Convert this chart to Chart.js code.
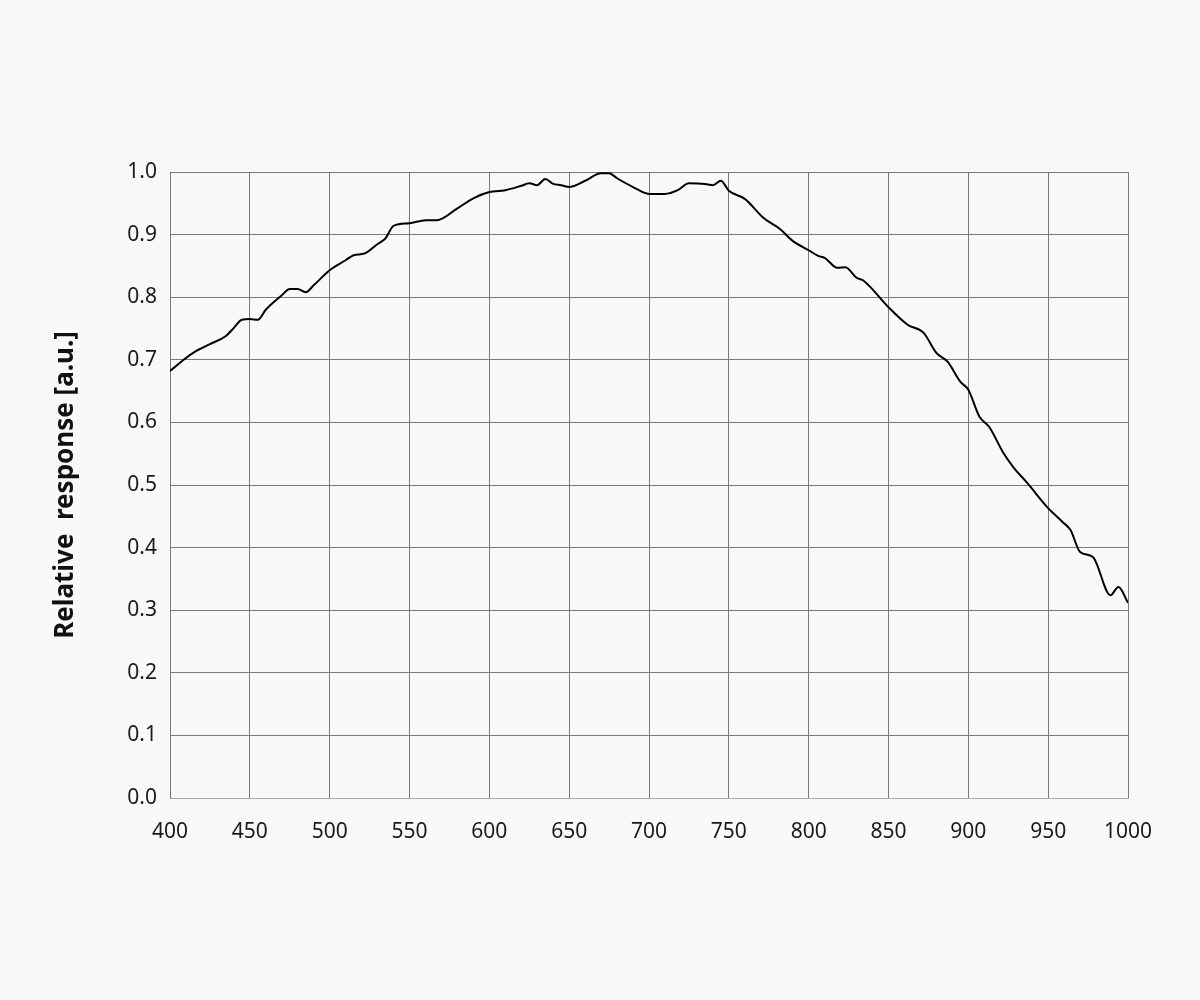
<!DOCTYPE html>
<html>
<head>
<meta charset="utf-8">
<script src="https://cdn.jsdelivr.net/npm/chart.js@4.4.1/dist/chart.umd.min.js"></script>
<style>
html,body{margin:0;padding:0;background:#f9f9f9;}
#wrap{width:1200px;height:1000px;position:relative;}
</style>
</head>
<body>
<div id="wrap"><canvas id="c" width="1200" height="1000"></canvas></div>
<script>
const wavelength = [400,410,415,425,435,440,445,450,455,460,470,475,480,485,490,500,510,515,522,530,535,540,550,560,567,580,590,600,610,620,625,630,635,640,645,650,660,670,675,680,690,700,710,718,725,735,740,745,750,760,772,782,790,800,806,810,818,823,830,834,850,862,872,880,887,895,900,907,913,922,928,937,950,959,964,970,978,989,994,1000];
const response = [0.682,0.703,0.712,0.725,0.738,0.751,0.764,0.765,0.764,0.780,0.803,0.813,0.813,0.808,0.819,0.843,0.859,0.867,0.870,0.885,0.894,0.914,0.918,0.923,0.923,0.942,0.958,0.968,0.971,0.978,0.982,0.979,0.989,0.981,0.979,0.976,0.986,0.998,0.998,0.990,0.976,0.965,0.965,0.971,0.982,0.981,0.979,0.986,0.970,0.957,0.926,0.909,0.890,0.875,0.866,0.863,0.847,0.848,0.831,0.827,0.784,0.756,0.743,0.711,0.697,0.665,0.652,0.609,0.593,0.551,0.529,0.503,0.463,0.441,0.428,0.393,0.385,0.324,0.337,0.312];
const xRange = [400, 1000];
const xStep = 50;
const yRange = [0, 1];
const yStep = 0.1;
const yTitle = 'Relative  response [a.u.]';

const points = wavelength.map((w, i) => ({x: w, y: response[i]}));
const fontFamily = '"Noto Sans", "Open Sans", sans-serif';

new Chart(document.getElementById('c'), {
  type: 'line',
  data: {
    datasets: [{
      data: points,
      borderColor: '#000',
      borderWidth: 2,
      pointRadius: 0,
      tension: 0.4,
      cubicInterpolationMode: 'monotone',
      fill: false
    }]
  },
  options: {
    responsive: false,
    animation: false,
    devicePixelRatio: 1,
    layout: {padding: {left: 50, right: 72, top: 172, bottom: 0}},
    plugins: {legend: {display: false}, tooltip: {enabled: false}},
    scales: {
      x: {
        type: 'linear',
        min: xRange[0], max: xRange[1],
        afterFit: s => { s.height = 202; },
        ticks: {stepSize: xStep, color: '#1a1a1a', padding: 21, maxRotation: 0,
                font: {family: fontFamily, size: 21},
                callback: v => String(v)},
        grid: {color: '#7a7a7a', lineWidth: 1, drawTicks: false},
        border: {color: '#aaaaaa'}
      },
      y: {
        min: yRange[0], max: yRange[1],
        afterFit: s => { s.width = 120; },
        ticks: {stepSize: yStep, color: '#1a1a1a', padding: 13,
                font: {family: fontFamily, size: 21},
                callback: v => Number(v).toFixed(1)},
        grid: {color: '#7a7a7a', lineWidth: 1, drawTicks: false},
        border: {color: '#7a7a7a'},
        title: {display: true, text: yTitle, color: '#111', padding: 0,
                font: {family: fontFamily, size: 26, weight: 'bold'}}
      }
    }
  }
});
</script>
</body>
</html>
